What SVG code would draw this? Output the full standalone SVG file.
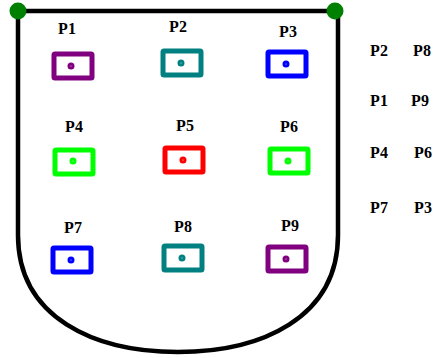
<svg xmlns="http://www.w3.org/2000/svg" width="436" height="358" viewBox="0 0 436 358">
<style>
.lbl{font-family:"Liberation Serif",serif;font-weight:bold;font-size:16px;fill:#000;text-anchor:middle}
.box{fill:#fff;stroke-width:5}
.dot{fill:#fff;stroke-width:3}
.purple{stroke:#800080}.teal{stroke:#008080}.blue{stroke:#0000ff}.green{stroke:#00ff00}.red{stroke:#ff0000}
</style>
<rect width="436" height="358" fill="#fff"/>
<g id="outline">
<path d="M18,11 L18,235 C18,318 95,352 178,352 C261,352 338,318 338,235 L338,11 Z" fill="none" stroke="#000" stroke-width="4.5"/>
<circle cx="18" cy="11" r="8.5" fill="#008000"/>
<circle cx="335" cy="11" r="8.5" fill="#008000"/>
</g>
<g id="P1"><text class="lbl" x="67" y="34">P1</text><rect class="box purple" x="54" y="54" width="38" height="24" rx="1"/><circle class="dot purple" cx="71" cy="66" r="2"/></g>
<g id="P2"><text class="lbl" x="178" y="32">P2</text><rect class="box teal" x="163" y="51" width="38" height="24" rx="1"/><circle class="dot teal" cx="181" cy="63" r="2"/></g>
<g id="P3"><text class="lbl" x="288" y="37">P3</text><rect class="box blue" x="268" y="52" width="38" height="24" rx="1"/><circle class="dot blue" cx="286" cy="64" r="2"/></g>
<g id="P4"><text class="lbl" x="74" y="132">P4</text><rect class="box green" x="55" y="150" width="38" height="24" rx="1"/><circle class="dot green" cx="73" cy="161" r="2"/></g>
<g id="P5"><text class="lbl" x="185" y="131">P5</text><rect class="box red" x="165" y="148" width="38" height="24" rx="1"/><circle class="dot red" cx="183" cy="160" r="2"/></g>
<g id="P6"><text class="lbl" x="289" y="132">P6</text><rect class="box green" x="270" y="149" width="38" height="24" rx="1"/><circle class="dot green" cx="288" cy="161" r="2"/></g>
<g id="P7"><text class="lbl" x="73" y="233">P7</text><rect class="box blue" x="53" y="248" width="38" height="24" rx="1"/><circle class="dot blue" cx="71" cy="260" r="2"/></g>
<g id="P8"><text class="lbl" x="183" y="232">P8</text><rect class="box teal" x="164" y="246" width="38" height="24" rx="1"/><circle class="dot teal" cx="182" cy="258" r="2"/></g>
<g id="P9"><text class="lbl" x="290" y="231">P9</text><rect class="box purple" x="268" y="247" width="38" height="24" rx="1"/><circle class="dot purple" cx="286" cy="259" r="2"/></g>
<g id="legend">
<text class="lbl" x="379" y="56">P2</text><text class="lbl" x="422" y="56">P8</text>
<text class="lbl" x="379" y="106">P1</text><text class="lbl" x="420" y="106">P9</text>
<text class="lbl" x="379" y="158">P4</text><text class="lbl" x="423" y="158">P6</text>
<text class="lbl" x="379" y="213">P7</text><text class="lbl" x="423" y="213">P3</text>
</g>
<g id="connectors"></g>
</svg>
